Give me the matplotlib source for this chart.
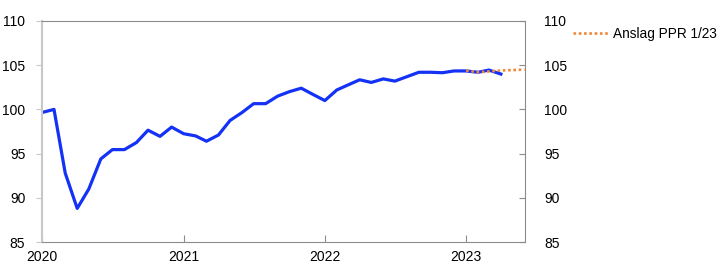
import matplotlib
matplotlib.use("Agg")
import matplotlib.pyplot as plt
import pandas as pd

plt.rcParams["font.family"] = ["Liberation Sans", "DejaVu Sans"]
plt.rcParams["font.size"] = 10

# Monthly index, Jan 2020 - Apr 2023
actual_start = "2020-01-01"
actual_values = [
    99.65, 100.0, 92.8, 88.8, 91.0, 94.4, 95.45, 95.45, 96.25, 97.65, 96.95, 98.0,
    97.25, 97.0, 96.4, 97.1, 98.75, 99.65, 100.65, 100.65, 101.5, 102.0, 102.4, 101.7,
    101.0, 102.2, 102.75, 103.35, 103.05, 103.45, 103.2, 103.7, 104.2, 104.2, 104.15, 104.35,
    104.35, 104.2, 104.45, 104.0,
]
# Forecast (PPR 1/23), Jan 2023 - Jun 2023
forecast_start = "2023-01-01"
forecast_values = [104.4, 104.2, 104.3, 104.4, 104.45, 104.5]
forecast_label = "Anslag PPR 1/23"

y_ticks = [85, 90, 95, 100, 105, 110]
year_ticks = ["2020", "2021", "2022", "2023"]

blue = "#1432F5"
orange = "#F0883A"
spine_grey = "#8c8c8c"

x_act = pd.date_range(actual_start, periods=len(actual_values), freq="MS")
x_fc = pd.date_range(forecast_start, periods=len(forecast_values), freq="MS")

fig = plt.figure(figsize=(7.22, 2.78), dpi=100)
ax = fig.add_axes([42 / 722, 1 - 242 / 278, (524.5 - 42) / 722, (242 - 21) / 278])

ax.plot(x_act, actual_values, color=blue, lw=2.3, solid_joinstyle="round", zorder=2)
ax.plot(x_fc, forecast_values, color=orange, lw=1.9, ls=(0, (1, 1)), zorder=3,
        label=forecast_label)

ax.set_xlim(pd.Timestamp("2020-01-01"), pd.Timestamp("2023-06-01"))
ax.set_ylim(85, 110)
ax.set_yticks(y_ticks)
ax.set_xticks([pd.Timestamp(f"{y}-01-01") for y in year_ticks])
ax.set_xticklabels(year_ticks)

ax.spines["left"].set_color("#c8c8c8")
ax.spines["left"].set_linewidth(1.5)
for side in ("top", "right", "bottom"):
    ax.spines[side].set_color(spine_grey)
    ax.spines[side].set_linewidth(0.8)

ax.tick_params(axis="x", direction="in", length=5, color=spine_grey, pad=6)
ax.tick_params(axis="y", direction="out", length=4, color="#c8c8c8", pad=8)

ax2 = ax.twinx()
ax2.set_ylim(85, 110)
ax2.set_yticks(y_ticks)
ax2.tick_params(axis="y", direction="in", length=4, color=spine_grey, pad=14)
for s in ax2.spines.values():
    s.set_visible(False)

fig.legend(loc="upper left", bbox_to_anchor=(573 / 722, 1 - 27 / 278), frameon=False,
           handlelength=2.75, handletextpad=0.2, borderaxespad=0, borderpad=0,
           fontsize=9.8)

fig.savefig("out.png", dpi=100)
